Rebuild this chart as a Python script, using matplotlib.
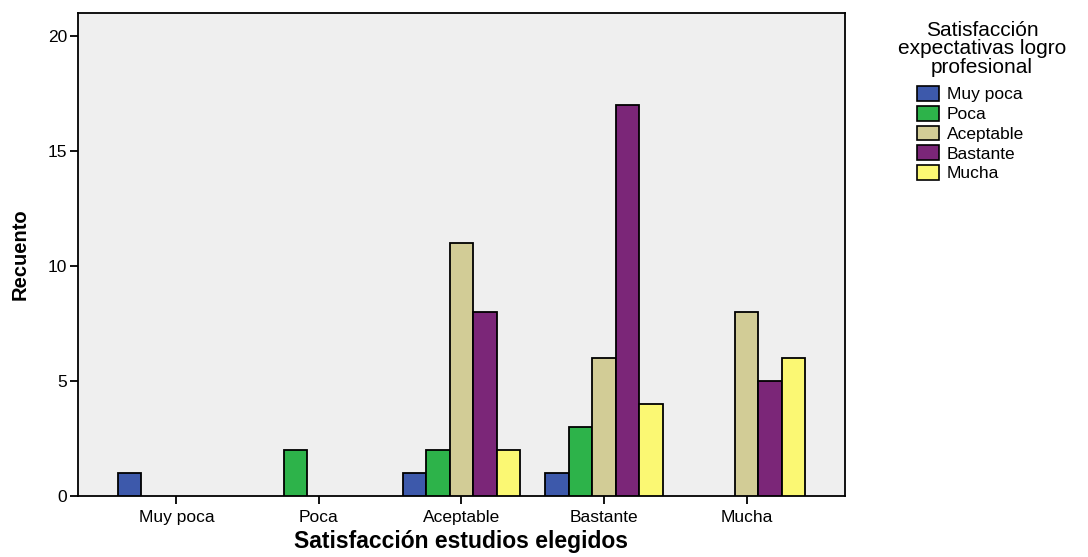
import matplotlib
matplotlib.use("Agg")
import matplotlib.pyplot as plt
from matplotlib.patches import Patch
import numpy as np

plt.rcParams['font.family'] = ['Liberation Sans', 'DejaVu Sans']

categories = ["Muy poca", "Poca", "Aceptable", "Bastante", "Mucha"]
series_names = ["Muy poca", "Poca", "Aceptable", "Bastante", "Mucha"]
# counts per series (expectativas logro) within each category (estudios elegidos)
muy_poca = [1, 0, 1, 1, 0]
poca = [0, 2, 2, 3, 0]
aceptable = [0, 0, 11, 6, 8]
bastante = [0, 0, 8, 17, 5]
mucha = [0, 0, 2, 4, 6]
series_values = [muy_poca, poca, aceptable, bastante, mucha]
colors = ["#3D59AB", "#2DB34A", "#D2CC96", "#7B2678", "#FBF873"]

W, H = 1088, 557
fig = plt.figure(figsize=(W / 100, H / 100), dpi=100)
ax = fig.add_axes([78 / W, 1 - 496 / H, (845 - 78) / W, (496 - 13) / H])
ax.set_facecolor("#EFEFEF")

x = np.arange(len(categories))
width = 0.165
for i, (vals, col) in enumerate(zip(series_values, colors)):
    offs = (i - 2) * width
    for xi, v in zip(x, vals):
        if v > 0:
            ax.bar(xi + offs, v, width=width, color=col, edgecolor="black",
                   linewidth=1.3, zorder=3)

ax.set_xlim(-0.69, 4.69)
ax.set_ylim(0, 21)
ax.set_yticks([0, 5, 10, 15, 20])
ax.set_xticks(x)
ax.set_xticklabels(categories, fontsize=12.5)
ax.tick_params(axis='y', labelsize=12.5, length=6, width=1.3, direction='out', pad=2)
ax.tick_params(axis='x', length=6, width=1.3, direction='out', pad=4)
for sp in ax.spines.values():
    sp.set_linewidth(1.3)
    sp.set_color("black")

ax.set_xlabel("Satisfacción estudios elegidos", fontsize=16.5, fontweight='bold', labelpad=4)
ax.set_ylabel("Recuento", fontsize=14.5, fontweight='bold')
ax.yaxis.set_label_coords(-0.063, 0.5)

# legend title drawn centred above the entries
fig.text(982 / W, 1 - 49 / H, "Satisfacción\nexpectativas logro\nprofesional",
         ha="center", va="center", fontsize=15, linespacing=0.97)

handles = [Patch(facecolor=c, edgecolor="black", linewidth=1.2) for c in colors]
leg = fig.legend(handles, series_names,
                 loc="upper left", bbox_to_anchor=(917 / W, 1 - 86 / H),
                 frameon=False, fontsize=12.5,
                 handlelength=1.25, handleheight=0.95, handletextpad=0.45,
                 labelspacing=0.19, borderaxespad=0, borderpad=0)

fig.savefig("out.png", dpi=100)
